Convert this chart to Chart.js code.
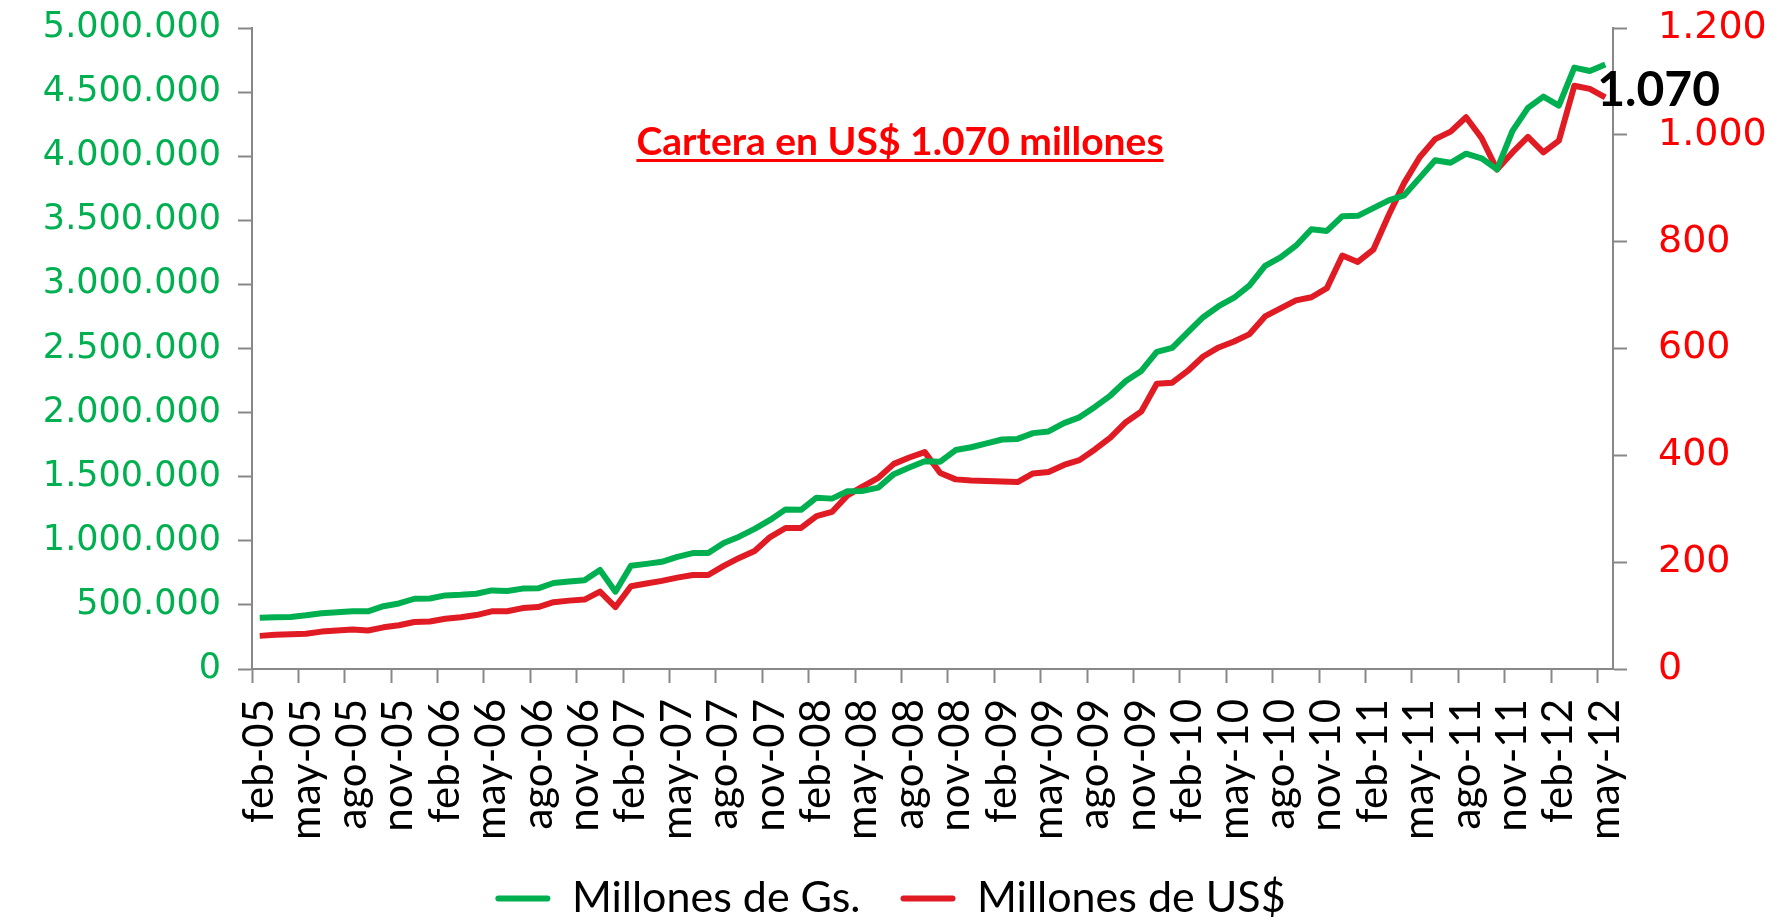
<!DOCTYPE html>
<html>
<head>
<meta charset="utf-8">
<script src="https://cdn.jsdelivr.net/npm/chart.js@4.4.1/dist/chart.umd.min.js"></script>
<style>
  html, body { margin: 0; padding: 0; background: #fff; overflow: hidden; }
  canvas { display: block; }
</style>
</head>
<body>
<canvas id="carteraChart" width="1781" height="920"></canvas>
<script>
// Cartera: Millones de Gs. (eje izq.) vs Millones de US$ (eje der.), feb-05 .. may-12
const monthNames = ['feb', 'mar', 'abr', 'may', 'jun', 'jul', 'ago', 'sep', 'oct', 'nov', 'dic', 'ene'];
const months = [];
for (let i = 0; i < 88; i++) {
    const m = monthNames[i % 12];
    const yr = 5 + Math.floor((i + 1) / 12);
    months.push(m + '-' + String(yr).padStart(2, '0'));
}

const carteraGs = [
    399000, 403000, 406000, 419000, 435000, 443000, 450000, 450000, 490000, 511000,
    548000, 550000, 574000, 579000, 587000, 613000, 608000, 627000, 629000, 671000,
    682000, 692000, 773000, 603000, 806000, 820000, 836000, 875000, 904000, 904000,
    983000, 1032000, 1093000, 1163000, 1245000, 1242000, 1336000, 1329000, 1386000, 1389000,
    1415000, 1520000, 1572000, 1620000, 1617000, 1708000, 1730000, 1760000, 1790000, 1795000,
    1840000, 1853000, 1918000, 1963000, 2044000, 2133000, 2246000, 2325000, 2474000, 2505000,
    2626000, 2744000, 2830000, 2896000, 2993000, 3145000, 3210000, 3302000, 3430000, 3417000,
    3532000, 3535000, 3595000, 3655000, 3695000, 3831000, 3968000, 3949000, 4020000, 3984000,
    3897000, 4198000, 4377000, 4465000, 4395000, 4691000, 4665000, 4715000
];

const carteraUsd = [
    62, 64, 65, 66, 70, 72, 74, 72, 78, 82,
    88, 89, 94, 97, 101, 108, 108, 114, 116, 125,
    128, 130, 145, 116, 155, 160, 165, 171, 176, 176,
    193, 208, 221, 247, 264, 264, 286, 294, 325, 342,
    358, 384, 396, 406, 367, 355, 353, 352, 351, 350,
    366, 369, 382, 391, 411, 433, 462, 482, 534, 536,
    558, 585, 602, 613, 627, 660, 675, 690, 696, 713,
    774, 762, 785, 850, 910, 958, 992, 1006, 1033, 994,
    935, 967, 996, 967, 989, 1092, 1086, 1070
];

const leftTicks = { min: 0, max: 5000000, step: 500000 };
const rightTicks = { min: 0, max: 1200, step: 200 };
const titleText = 'Cartera en US$ 1.070 millones';
const lastLabel = '1.070';

const GREEN = '#00B050';
const RED = '#E01B24';
const GRAY = '#888888';

function miles(v) {
    return String(v).replace(/\B(?=(\d{3})+(?!\d))/g, '.');
}

// fixed axis box, no extra padding from tick labels
function fixWidth(w) {
    return (s) => { s.width = w; s.paddingTop = 0; s.paddingBottom = 0; };
}

// titulo subrayado y etiqueta del ultimo dato
const annotations = {
    id: 'annotations',
    afterDatasetsDraw(chart) {
        const { ctx } = chart;
        ctx.save();
        ctx.font = 'bold 39px Lato';
        ctx.fillStyle = '#FF0000';
        ctx.textAlign = 'center';
        ctx.textBaseline = 'alphabetic';
        const tx = 900, ty = 155;
        ctx.fillText(titleText, tx, ty);
        const w = ctx.measureText(titleText).width;
        ctx.fillRect(tx - w / 2, ty + 4, w, 3);

        const meta = chart.getDatasetMeta(1);
        const pt = meta.data[meta.data.length - 1];
        ctx.font = 'bold 48px Lato';
        ctx.fillStyle = '#000';
        ctx.textAlign = 'left';
        ctx.fillText(lastLabel, pt.x - 8, pt.y + 9);
        ctx.restore();
    }
};

new Chart(document.getElementById('carteraChart'), {
    type: 'line',
    data: {
        labels: months,
        datasets: [
            {
                label: 'Millones de Gs.',
                data: carteraGs,
                yAxisID: 'y',
                borderColor: GREEN,
                backgroundColor: GREEN,
                borderWidth: 6,
                pointRadius: 0,
                tension: 0,
                borderJoinStyle: 'round'
            },
            {
                label: 'Millones de US$',
                data: carteraUsd,
                yAxisID: 'y1',
                borderColor: RED,
                backgroundColor: RED,
                borderWidth: 6,
                pointRadius: 0,
                tension: 0,
                borderJoinStyle: 'round'
            }
        ]
    },
    options: {
        responsive: false,
        animation: false,
        layout: { padding: { top: 28, bottom: -10, left: 0, right: 0 } },
        plugins: {
            tooltip: { enabled: false },
            legend: {
                position: 'bottom',
                labels: {
                    boxWidth: 55,
                    boxHeight: 6,
                    padding: 40,
                    color: '#000',
                    font: { family: 'Lato', size: 43 },
                    generateLabels: (chart) => Chart.defaults.plugins.legend.labels.generateLabels(chart)
                        .map(l => ({ ...l, lineWidth: 0, borderRadius: 3 }))
                }
            }
        },
        scales: {
            x: {
                type: 'category',
                offset: true,
                afterFit: (s) => { s.height = 168; },
                border: { color: GRAY, width: 2 },
                grid: {
                    offset: true,
                    drawOnChartArea: false,
                    tickLength: 14,
                    tickWidth: 2,
                    tickColor: (c) => (c.index % 3 === 0 ? GRAY : 'rgba(0,0,0,0)')
                },
                ticks: {
                    autoSkip: false,
                    minRotation: 90,
                    maxRotation: 90,
                    padding: 16,
                    color: '#000',
                    font: { family: 'Lato', size: 42 },
                    callback: (v, i) => (i % 3 === 0 ? months[i] : '')
                }
            },
            y: {
                position: 'left',
                min: leftTicks.min,
                max: leftTicks.max,
                afterFit: fixWidth(252),
                border: { color: GRAY, width: 2 },
                grid: { drawOnChartArea: false, tickLength: 14, tickWidth: 2, tickColor: GRAY },
                ticks: {
                    stepSize: leftTicks.step,
                    padding: 17,
                    color: GREEN,
                    font: { family: 'DejaVu Sans', size: 35 },
                    callback: (v) => miles(v)
                }
            },
            y1: {
                position: 'right',
                min: rightTicks.min,
                max: rightTicks.max,
                afterFit: fixWidth(168),
                border: { color: GRAY, width: 2 },
                grid: { drawOnChartArea: false, tickLength: 14, tickWidth: 2, tickColor: GRAY },
                ticks: {
                    stepSize: rightTicks.step,
                    padding: 31,
                    color: '#FF0000',
                    font: { family: 'DejaVu Sans', size: 38 },
                    callback: (v) => miles(v)
                }
            }
        }
    },
    plugins: [annotations]
});
</script>
</body>
</html>
